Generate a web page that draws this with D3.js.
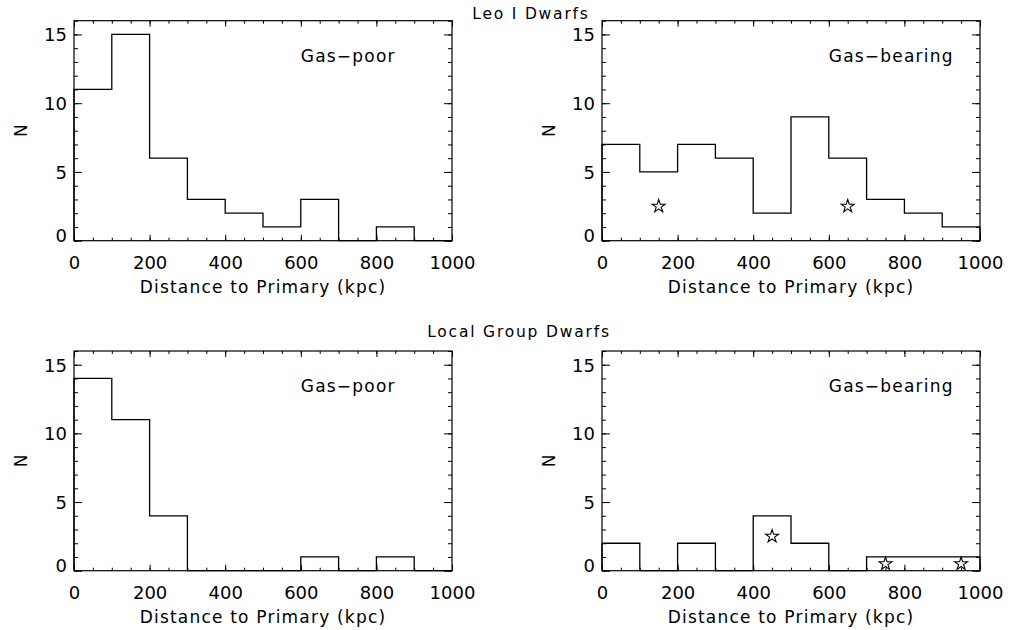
<!DOCTYPE html>
<html>
<head>
<meta charset="utf-8">
<script src="https://cdn.jsdelivr.net/npm/d3@7"></script>
<style>
  body { margin: 0; background: #fff; }
  text { font-family: "DejaVu Sans", sans-serif; fill: #000; }
</style>
</head>
<body>
<script>
// bin starts (kpc), bin width 100
var binStarts = [0, 100, 200, 300, 400, 500, 600, 700, 800, 900];
var leoGasPoor = [11, 15, 6, 3, 2, 1, 3, 0, 1, 0];
var leoGasBearing = [7, 5, 7, 6, 2, 9, 6, 3, 2, 1];
var lgGasPoor = [14, 11, 4, 0, 0, 0, 1, 0, 1, 0];
var lgGasBearing = [2, 0, 2, 0, 4, 2, 0, 1, 1, 1];

// star markers
var leoStarX = [150, 650];
var leoStarY = [2.5, 2.5];
var lgStarX = [450, 750, 950];
var lgStarY = [2.5, 0.5, 0.5];

var xTicks = [0, 200, 400, 600, 800, 1000];
var yTicks = [0, 5, 10, 15];
var rowTitles = ['Leo I Dwarfs', 'Local Group Dwarfs'];

var W = 1010, H = 630;
var svg = d3.select('body').append('svg').attr('width', W).attr('height', H);

var panels = [
  {x0: 74, x1: 452, y0: 20.7, y1: 240.7, data: leoGasPoor, label: 'Gas\u2212poor', sx: [], sy: []},
  {x0: 602, x1: 980, y0: 20.7, y1: 240.7, data: leoGasBearing, label: 'Gas\u2212bearing', sx: leoStarX, sy: leoStarY},
  {x0: 74, x1: 452, y0: 351, y1: 570.7, data: lgGasPoor, label: 'Gas\u2212poor', sx: [], sy: []},
  {x0: 602, x1: 980, y0: 351, y1: 570.7, data: lgGasBearing, label: 'Gas\u2212bearing', sx: lgStarX, sy: lgStarY}
];

var drawPanel = function drawPanel(p) {
  var x = d3.scaleLinear().domain([0, 1000]).range([p.x0, p.x1]);
  var y = d3.scaleLinear().domain([0, 16]).range([p.y1, p.y0]);
  var g = svg.append('g');

  var minorX = d3.range(0, 1001, 50);
  var minorY = d3.range(0, 17, 1);

  // ticks on all four sides, pointing inward
  var addAxis = function (axis, tx, ty, labels) {
    var a = g.append('g').attr('transform', 'translate(' + tx + ',' + ty + ')').call(axis);
    a.select('.domain').remove();
    a.selectAll('line').attr('stroke', '#000').attr('stroke-width', 1);
    if (!labels) a.selectAll('text').remove();
    return a;
  };

  addAxis(d3.axisBottom(x).tickValues(minorX).tickSize(-3).tickFormat(''), 0, p.y1, false);
  addAxis(d3.axisTop(x).tickValues(minorX).tickSize(-3).tickFormat(''), 0, p.y0, false);
  addAxis(d3.axisLeft(y).tickValues(minorY).tickSize(-4).tickFormat(''), p.x0, 0, false);
  addAxis(d3.axisRight(y).tickValues(minorY).tickSize(-4).tickFormat(''), p.x1, 0, false);

  var xb = addAxis(d3.axisBottom(x).tickValues(xTicks).tickSize(-6).tickPadding(16).tickFormat(d3.format('d')), 0, p.y1, true);
  addAxis(d3.axisTop(x).tickValues(xTicks).tickSize(-6).tickFormat(''), 0, p.y0, false);
  var yl = addAxis(d3.axisLeft(y).tickValues(yTicks).tickSize(-8).tickPadding(7).tickFormat(d3.format('d')), p.x0, 0, true);
  addAxis(d3.axisRight(y).tickValues(yTicks).tickSize(-8).tickFormat(''), p.x1, 0, false);

  xb.selectAll('text').attr('font-size', 18).attr('font-family', '"DejaVu Sans", sans-serif').attr('dy', '0.71em');
  yl.selectAll('text').attr('font-size', 18).attr('font-family', '"DejaVu Sans", sans-serif')
    .attr('dy', function (d) { return d === 0 ? '0.05em' : '0.36em'; });

  // frame
  g.append('rect').attr('x', p.x0).attr('y', p.y0)
    .attr('width', p.x1 - p.x0).attr('height', p.y1 - p.y0)
    .attr('fill', 'none').attr('stroke', '#000').attr('stroke-width', 1.2);

  // histogram as a stepped outline
  var pts = [[0, 0]];
  binStarts.forEach(function (b, i) {
    pts.push([b, p.data[i]]);
    pts.push([b + 100, p.data[i]]);
  });
  pts.push([1000, 0]);
  var line = d3.line().x(function (d) { return x(d[0]); }).y(function (d) { return y(d[1]); });
  g.append('path').attr('d', line(pts)).attr('fill', 'none')
    .attr('stroke', '#000').attr('stroke-width', 1.3);

  // stars
  var star = d3.symbol().type(d3.symbolStar).size(52);
  p.sx.forEach(function (sx, i) {
    g.append('path').attr('d', star())
      .attr('transform', 'translate(' + x(sx) + ',' + y(p.sy[i]) + ')')
      .attr('fill', 'none').attr('stroke', '#000').attr('stroke-width', 1.1);
  });

  // panel label
  g.append('text').attr('x', x(600)).attr('y', y(13))
    .attr('font-size', 17).attr('letter-spacing', 1.2).text(p.label);

  // axis titles
  g.append('text').attr('x', (p.x0 + p.x1) / 2).attr('y', p.y1 + 52)
    .attr('text-anchor', 'middle').attr('font-size', 17).attr('letter-spacing', 1.2)
    .text('Distance to Primary (kpc)');
  g.append('text')
    .attr('transform', 'translate(' + (p.x0 - 47) + ',' + ((p.y0 + p.y1) / 2) + ') rotate(-90)')
    .attr('text-anchor', 'middle').attr('font-size', 17).text('N');
};

panels.forEach(drawPanel);

svg.append('text').attr('x', 531).attr('y', 19).attr('text-anchor', 'middle')
  .attr('font-size', 15.5).attr('letter-spacing', 1.8).text(rowTitles[0]);
svg.append('text').attr('x', 519).attr('y', 337).attr('text-anchor', 'middle')
  .attr('font-size', 15.5).attr('letter-spacing', 1.8).text(rowTitles[1]);
</script>
</body>
</html>
